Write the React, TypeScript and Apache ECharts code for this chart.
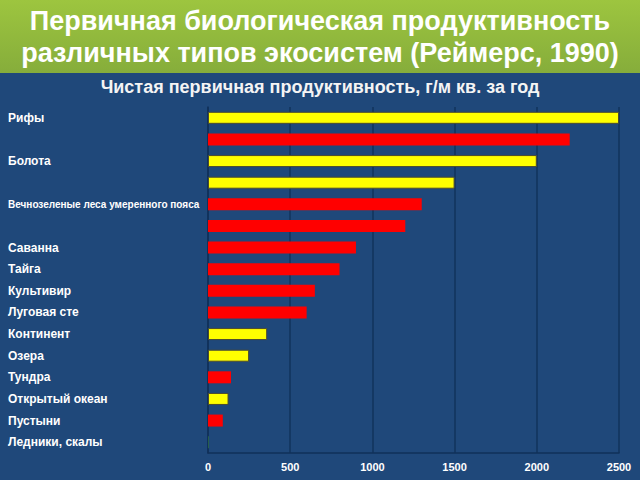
import React, { useEffect, useRef } from "react";
import * as echarts from "echarts";

const titleLines = [
  "Первичная биологическая продуктивность",
  "различных типов экосистем (Реймерс, 1990)",
];
const subtitleText = "Чистая первичная продуктивность, г/м кв. за год";

const categories = [
  "Рифы",
  "",
  "Болота",
  "",
  "Вечнозеленые леса умеренного пояса",
  "",
  "Саванна",
  "Тайга",
  "Культивир",
  "Луговая сте",
  "Континент",
  "Озера",
  "Тундра",
  "Открытый океан",
  "Пустыни",
  "Ледники, скалы",
];
const values = [2500, 2200, 2000, 1500, 1300, 1200, 900, 800, 650, 600, 360, 250, 140, 125, 90, 3];
const barColors = [
  "yellow", "red", "yellow", "yellow", "red", "red", "red", "red",
  "red", "red", "yellow", "yellow", "red", "yellow", "red", "green",
];

const colorMap: Record<string, string> = {
  yellow: "#ffff00",
  red: "#ff0000",
  green: "#3f8f3f",
};

export default function App() {
  const ref = useRef<HTMLDivElement>(null);
  useEffect(() => {
    if (!ref.current) return;
    const chart = echarts.init(ref.current, undefined, { renderer: "svg" });
    chart.setOption({
      animation: false,
      backgroundColor: "#1f487a",
      graphic: [
        {
          type: "rect",
          left: 0,
          top: 0,
          z: -10,
          shape: { x: 0, y: 0, width: 640, height: 73 },
          style: {
            fill: new echarts.graphic.LinearGradient(0, 0, 0, 1, [
              { offset: 0, color: "#9dc53f" },
              { offset: 1, color: "#86ad3b" },
            ]),
          },
        },
        ...titleLines.map((t, i) => ({
          type: "text",
          x: 320,
          y: 21 + i * 32,
          z: 10,
          style: {
            text: t,
            fill: "#ffffff",
            font: "bold 27px 'Liberation Sans'",
            align: "center",
            verticalAlign: "middle",
          },
        })),
        {
          type: "text",
          x: 320,
          y: 87,
          z: 10,
          style: {
            text: subtitleText,
            fill: "#f4f4f4",
            font: "bold 18px 'Liberation Sans'",
            align: "center",
            verticalAlign: "middle",
          },
        },
      ],
      grid: {
        left: 208,
        right: 21,
        top: 107,
        bottom: 27,
        containLabel: false,
        outerBoundsMode: "none",
      },
      xAxis: {
        type: "value",
        min: 0,
        max: 2500,
        interval: 500,
        axisLine: { show: true, lineStyle: { color: "#10305a", width: 1.5 } },
        axisTick: { show: false },
        splitLine: { show: true, lineStyle: { color: "#12335c", width: 1.5 } },
        axisLabel: {
          color: "#ffffff",
          fontFamily: "Liberation Sans",
          fontWeight: "bold",
          fontSize: 11,
          margin: 8,
          formatter: (v: number) => String(v),
        },
      },
      yAxis: {
        type: "category",
        inverse: true,
        data: categories.map((c, i) =>
          i === 4
            ? {
                value: c,
                textStyle: {
                  fontSize: 10,
                  align: "left",
                  color: "#ffffff",
                  fontWeight: "bold",
                  fontFamily: "Liberation Sans",
                },
              }
            : c
        ),
        axisLine: { show: true, lineStyle: { color: "#10305a", width: 1.5 } },
        axisTick: { show: false },
        axisLabel: {
          align: "left",
          margin: 200,
          color: "#ffffff",
          fontFamily: "Liberation Sans",
          fontWeight: "bold",
          fontSize: 12,
          interval: 0,
        },
      },
      series: [
        {
          type: "bar",
          barWidth: 12,
          data: values.map((v, i) => ({
            value: v,
            itemStyle: {
              color: colorMap[barColors[i]],
              borderColor: barColors[i] === "yellow" ? "#4a4a30" : undefined,
              borderWidth: barColors[i] === "yellow" ? 1 : 0,
            },
          })),
        },
      ],
    });
    return () => chart.dispose();
  }, []);
  return (
    <div
      ref={ref}
      style={{ position: "fixed", left: 0, top: 0, width: 640, height: 480 }}
    />
  );
}
